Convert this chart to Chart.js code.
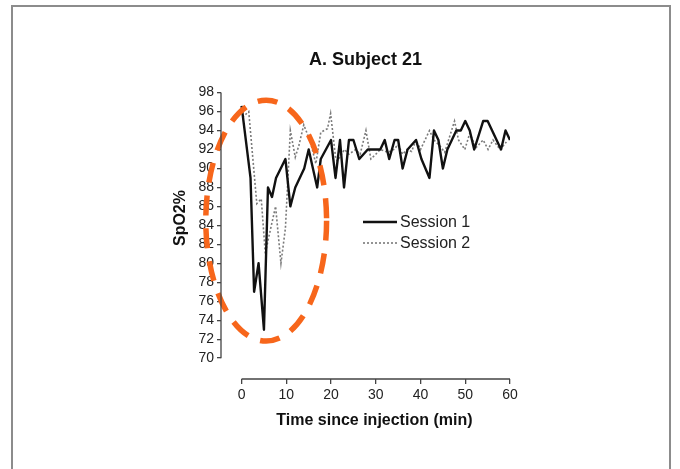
<!DOCTYPE html>
<html>
<head>
<meta charset="utf-8">
<script src="https://cdn.jsdelivr.net/npm/chart.js@4.4.0/dist/chart.umd.min.js"></script>
<style>
  html, body { margin: 0; padding: 0; background: #fff; }
  #frame {
    position: absolute; left: 11px; top: 5px; width: 656px; height: 480px;
    border: 2px solid #8c8c8c;
  }
  #wrap { position: absolute; left: 0; top: 0; width: 680px; height: 469px; }
</style>
</head>
<body>
<div id="frame"></div>
<div id="wrap"><canvas id="linechart" width="680" height="469"></canvas></div>
<script>
// time since injection (min) and SpO2 (%)
var session1Time = [0, 2, 2.8, 3.8, 5, 5.9, 6.8, 7.7, 9.8, 10.9,
    12, 14, 15, 16.9, 17.7, 20, 21, 22, 22.9, 24,
    25, 26.3, 28.2, 31, 32, 33, 34.2, 35, 36, 37.1,
    39, 40.2, 42, 43, 44, 45, 46, 48, 49, 50,
    51, 52, 54, 55, 56, 58, 59, 60];
var session1Spo2 = [96.6, 89, 77, 80, 73, 88, 87, 89, 91, 86,
    88, 90, 92, 88, 91, 93, 89, 93, 88, 93,
    93, 91, 92, 92, 93, 91, 93, 93, 90, 92,
    93, 91, 89, 94, 93, 90, 92, 94, 94, 95,
    94, 92, 95, 95, 94, 92, 94, 93];

var session2Time = [0.2, 1.6, 3.4, 4.4, 5.3, 6, 7.6, 8.8, 9.8, 10.9,
    12, 12.8, 13.9, 15.4, 16.6, 17.7, 19.2, 19.9, 21, 21.4,
    23, 24, 25.5, 26.5, 27.8, 28.9, 30, 31, 32.7, 34,
    35, 36, 37, 38, 39, 40, 42, 43, 44.3, 45.4,
    47.6, 48.5, 49.9, 51, 52.4, 54, 55.1, 56.2, 57.8, 59.2];
var session2Spo2 = [95.4, 96, 86.3, 86.8, 81, 82.6, 86, 80, 83.7, 94,
    91.2, 92.4, 94.6, 92.8, 90.5, 93.8, 94.2, 95.8, 91.2, 90.8,
    92, 91.5, 92, 91.5, 94, 91, 91.5, 92, 91.7, 92,
    92.5, 91.5, 92, 91.8, 93, 92, 94, 93, 92.4, 91.7,
    95, 93, 92, 93.7, 92.2, 93, 92, 93, 92, 92.8];

var xTicks = [0, 10, 20, 30, 40, 50, 60];
var yTicks = [70, 72, 74, 76, 78, 80, 82, 84, 86, 88, 90, 92, 94, 96, 98];

function toPoints(xs, ys) {
    return xs.map(function(x, i) { return {x: x, y: ys[i]}; });
}

// detached axis lines, like the original (only over the tick range)
var axisLines = {
    id: 'axisLines',
    afterDraw: function(chart) {
        var ctx = chart.ctx, x = chart.scales.x, y = chart.scales.y;
        var a = chart.chartArea;
        ctx.save();
        ctx.strokeStyle = '#444';
        ctx.lineWidth = 1.3;
        ctx.beginPath();
        ctx.moveTo(a.left, y.getPixelForValue(yTicks[0]));
        ctx.lineTo(a.left, y.getPixelForValue(yTicks[yTicks.length - 1]));
        ctx.moveTo(x.getPixelForValue(xTicks[0]), a.bottom);
        ctx.lineTo(x.getPixelForValue(xTicks[xTicks.length - 1]), a.bottom);
        ctx.stroke();
        ctx.restore();
    }
};

// orange dashed ellipse highlighting the drop
var highlight = {
    id: 'highlight',
    afterDatasetsDraw: function(chart) {
        var ctx = chart.ctx, x = chart.scales.x, y = chart.scales.y;
        var cx = x.getPixelForValue(5.5), cy = y.getPixelForValue(84.5);
        var rx = x.getPixelForValue(5.5 + 13.5) - cx;
        var ry = cy - y.getPixelForValue(84.5 + 12.7);
        ctx.save();
        ctx.strokeStyle = '#f7661b';
        ctx.lineWidth = 5.5;
        ctx.setLineDash([20, 13]);
        ctx.beginPath();
        ctx.ellipse(cx, cy, rx, ry, 0, 0, Math.PI * 2);
        ctx.stroke();
        ctx.restore();
    }
};

// legend drawn inside the plot, right of the drop
var innerLegend = {
    id: 'innerLegend',
    afterDraw: function(chart) {
        var ctx = chart.ctx;
        var lx = 363, ly = 222;
        ctx.save();
        ctx.font = '16px "Liberation Sans", Arial, sans-serif';
        ctx.textBaseline = 'middle';
        chart.data.datasets.forEach(function(ds, i) {
            var yy = ly + i * 21;
            ctx.strokeStyle = ds.borderColor;
            ctx.lineWidth = ds.borderWidth;
            ctx.setLineDash(ds.borderDash || []);
            ctx.beginPath();
            ctx.moveTo(lx, yy);
            ctx.lineTo(lx + 34, yy);
            ctx.stroke();
            ctx.setLineDash([]);
            ctx.fillStyle = '#222';
            ctx.fillText(ds.label, lx + 37, yy + 1);
        });
        ctx.restore();
    }
};

var ctx = document.getElementById('linechart');
var chart = new Chart(ctx, {
    type: 'line',
    data: {
        datasets: [{
            label: 'Session 1',
            data: toPoints(session1Time, session1Spo2),
            borderColor: '#111',
            borderWidth: 2.4,
            pointRadius: 0,
            fill: false,
            lineTension: 0,
            borderJoinStyle: 'round'
        }, {
            label: 'Session 2',
            data: toPoints(session2Time, session2Spo2),
            borderColor: '#7a7a7a',
            borderWidth: 1.6,
            borderDash: [2, 2],
            pointRadius: 0,
            fill: false,
            lineTension: 0
        }]
    },
    options: {
        responsive: false,
        animation: false,
        layout: { padding: { left: 171, right: 170, top: 0, bottom: 39 } },
        plugins: {
            legend: { display: false },
            tooltip: { enabled: false },
            title: {
                display: true,
                text: 'A. Subject 21',
                fullSize: false,
                color: '#111',
                font: { family: '"Liberation Sans", Arial, sans-serif', size: 18, weight: 'bold' },
                padding: { top: 49, bottom: 22 }
            }
        },
        scales: {
            x: {
                type: 'linear',
                min: -4.6,
                max: 60,
                afterBuildTicks: function(scale) {
                    scale.ticks = xTicks.map(function(v) { return {value: v}; });
                },
                afterFit: function(scale) { scale.height = 51; },
                grid: { drawOnChartArea: false, drawTicks: true, tickLength: 5, color: '#444', lineWidth: 1.3 },
                border: { display: false },
                ticks: {
                    color: '#222',
                    padding: 3,
                    maxRotation: 0,
                    font: { family: '"Liberation Sans", Arial, sans-serif', size: 14 }
                },
                title: {
                    display: true,
                    // leading spaces centre the title on the 0-60 range
                    text: '\u00a0\u00a0\u00a0\u00a0Time since injection (min)',
                    color: '#111',
                    padding: 0,
                    font: { family: '"Liberation Sans", Arial, sans-serif', size: 16, weight: 'bold' }
                }
            },
            y: {
                min: 67.8,
                max: 98,
                afterBuildTicks: function(scale) {
                    scale.ticks = yTicks.map(function(v) { return {value: v}; });
                },
                afterFit: function(scale) { scale.width = 50; },
                grid: { drawOnChartArea: false, drawTicks: true, tickLength: 4, color: '#444', lineWidth: 1.3 },
                border: { display: false },
                ticks: {
                    color: '#222',
                    padding: 3,
                    font: { family: '"Liberation Sans", Arial, sans-serif', size: 14 }
                },
                title: {
                    display: true,
                    // leading spaces lift the title to the middle of 70-98
                    text: '\u00a0\u00a0\u00a0\u00a0\u00a0\u00a0\u00a0\u00a0SpO2%',
                    color: '#111',
                    padding: 0,
                    font: { family: '"Liberation Sans", Arial, sans-serif', size: 16, weight: 'bold' }
                }
            }
        }
    },
    plugins: [axisLines, highlight, innerLegend]
});
</script>
</body>
</html>
